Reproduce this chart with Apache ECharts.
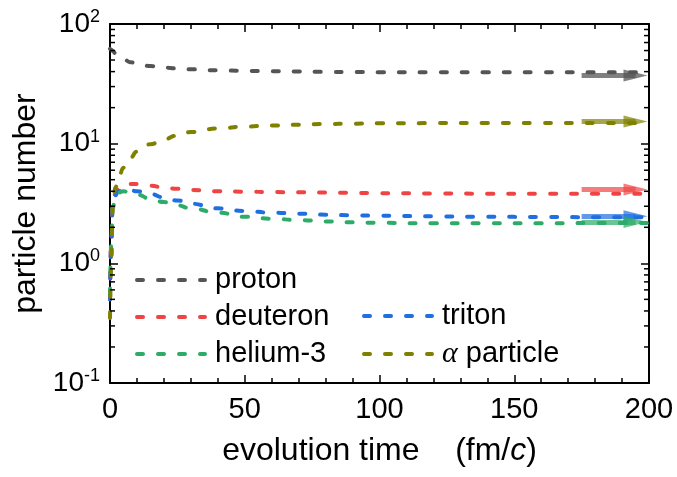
<!DOCTYPE html>
<html>
<head>
    <meta charset="utf-8">
    <title>particle number vs evolution time</title>
    <script src="https://cdn.jsdelivr.net/npm/echarts@6.0.0/dist/echarts.min.js"></script>
    <style>
        html, body { margin: 0; padding: 0; background: #fff; }
        #chartContainer { width: 677px; height: 477px; }
    </style>
</head>
<body>
    <div id="chartContainer"></div>

    <script>
        // evolution time (fm/c)
        const times = [0, 0.5, 1, 2, 3, 5, 7.5, 10, 15, 20, 25, 30, 40, 50, 60, 70, 80, 90, 100, 120, 140, 160, 180, 200];

        // particle numbers
        const proton   = [62, 61, 59.5, 57, 55, 51, 48, 46.5, 44.5, 43.3, 42.5, 41.8, 41, 40.6, 40.3, 40.0, 39.8, 39.7, 39.6, 39.5, 39.5, 39.5, 39.5, 39.5];
        const deuteron = [0.5, 1.6, 3.2, 3.8, 4.2, 4.5, 4.6, 4.6, 4.45, 4.3, 4.2, 4.1, 4.0, 3.97, 3.94, 3.92, 3.9, 3.88, 3.86, 3.84, 3.82, 3.81, 3.81, 3.81];
        const triton   = [0.5, 1.5, 3.0, 3.7, 4.0, 4.15, 4.1, 4.0, 3.8, 3.55, 3.35, 3.15, 2.88, 2.74, 2.65, 2.6, 2.55, 2.52, 2.5, 2.47, 2.45, 2.44, 2.43, 2.43];
        const helium3  = [0.55, 1.5, 2.9, 3.6, 3.9, 4.0, 3.88, 3.75, 3.47, 3.25, 3.05, 2.88, 2.65, 2.45, 2.36, 2.3, 2.24, 2.2, 2.18, 2.16, 2.16, 2.16, 2.17, 2.17];
        const alpha    = [0.35, 1.0, 3.0, 4.3, 5.0, 6.3, 7.6, 8.6, 9.9, 10.9, 11.7, 12.5, 13.4, 13.9, 14.2, 14.4, 14.6, 14.7, 14.8, 14.85, 14.9, 14.9, 14.9, 14.9];

        const names  = ['proton', 'deuteron', 'triton', 'helium-3', 'α particle'];
        const colors = ['#555555', '#ef4444', '#1f6fe0', '#2eab68', '#808000'];
        const arrowColors = ['rgba(85,85,85,0.75)', 'rgba(239,68,68,0.7)', 'rgba(31,111,224,0.7)', 'rgba(46,171,104,0.7)', 'rgba(128,128,0,0.7)'];

        // asymptotic values shown as arrows at the right edge
        const arrowValues = [37.1, 4.14, 2.48, 2.21, 15.35];
        const arrowFrom = 175;
        const arrowTo = 195;

        const xMin = 0, xMax = 200, xStep = 50;
        const yMin = 0.1, yMax = 100;
        // minor ticks of the log axis: 2..9 in each decade
        const yMinorTicks = [];
        [0.1, 1, 10].forEach(d => { for (let m = 2; m <= 9; m++) yMinorTicks.push(+(m * d).toPrecision(3)); });

        const seriesValues = [proton, deuteron, triton, helium3, alpha];
        const font = "'Liberation Sans', Arial, sans-serif";
        const dash = [6, 15];

        const chart = echarts.init(document.getElementById('chartContainer'));

        const lineSeries = names.map((name, i) => ({
            name: name,
            type: 'line',
            data: times.map((t, k) => [t, seriesValues[i][k]]),
            symbol: 'none',
            smooth: true,
            smoothMonotone: 'x',
            color: colors[i],
            lineStyle: { width: 4, type: dash, cap: 'round', color: colors[i] },
            markLine: {
                silent: true,
                symbol: ['none', 'triangle'],
                symbolSize: [12, 24],
                label: { show: false },
                lineStyle: { color: arrowColors[i], width: 5, type: 'solid', cap: 'butt' },
                itemStyle: { color: arrowColors[i] },
                data: [[{ coord: [arrowFrom, arrowValues[i]] }, { coord: [arrowTo, arrowValues[i]] }]]
            }
        }));

        const minorTickSeries = {
            type: 'custom',
            silent: true,
            clip: false,
            z: 10,
            data: yMinorTicks.map(v => [xMin, v]),
            renderItem: (params, api) => {
                const v = api.value(1);
                const l = api.coord([xMin, v]);
                const r = api.coord([xMax, v]);
                const st = { stroke: '#000', lineWidth: 1.5 };
                return {
                    type: 'group',
                    children: [
                        { type: 'line', shape: { x1: l[0], y1: l[1], x2: l[0] + 5, y2: l[1] }, style: st },
                        { type: 'line', shape: { x1: r[0] - 5, y1: r[1], x2: r[0], y2: r[1] }, style: st }
                    ]
                };
            }
        };

        const axisCommon = {
            axisLine: { onZero: false, lineStyle: { color: '#000', width: 2 } },
            axisTick: { inside: true, length: 8, lineStyle: { color: '#000', width: 1.5 } },
            splitLine: { show: false }
        };

        const legendText = {
            fontFamily: font,
            fontSize: 29,
            color: '#000',
            lineHeight: 30,
            padding: [0, 0, 0, 5],
            rich: {
                a: { fontFamily: "'Liberation Serif', serif", fontStyle: 'italic', fontSize: 30, lineHeight: 30 },
                n: { fontFamily: font, fontSize: 29, lineHeight: 30 }
            }
        };
        const legendFormatter = name => name === 'α particle' ? '{a|α}{n| particle}' : name;
        const legendCommon = {
            orient: 'vertical',
            padding: 0,
            itemHeight: 14,
            selectedMode: false,
            formatter: legendFormatter,
            textStyle: legendText,
            itemStyle: { opacity: 0 },
            lineStyle: { width: 4, type: dash, cap: 'round' }
        };

        const option = {
            animation: false,
            backgroundColor: '#fff',
            grid: { left: 110, right: 28, top: 24, bottom: 94 },
            legend: [
                Object.assign({}, legendCommon, {
                    data: ['proton', 'deuteron', 'helium-3'],
                    left: 135, top: 265,
                    itemWidth: 68, itemGap: 7
                }),
                Object.assign({}, legendCommon, {
                    data: ['triton', 'α particle'],
                    left: 362, top: 301,
                    itemWidth: 68, itemGap: 8
                })
            ],
            xAxis: [
                Object.assign({}, axisCommon, {
                    type: 'value',
                    min: xMin, max: xMax, interval: xStep,
                    minorTick: { show: true, splitNumber: 5, length: 5, lineStyle: { color: '#000', width: 1.5 } },
                    minorSplitLine: { show: false },
                    axisLabel: { fontFamily: font, fontSize: 29, color: '#000', margin: 12 },
                    name: '{n|evolution time    (fm/}{i|c}{n|)}',
                    nameLocation: 'middle',
                    nameGap: 52,
                    nameTextStyle: {
                        rich: {
                            n: { fontFamily: font, fontSize: 32, color: '#000' },
                            i: { fontFamily: font, fontSize: 32, fontStyle: 'italic', color: '#000' }
                        }
                    }
                }),
                Object.assign({}, axisCommon, {
                    type: 'value',
                    position: 'top',
                    min: xMin, max: xMax, interval: xStep,
                    minorTick: { show: true, splitNumber: 5, length: 5, lineStyle: { color: '#000', width: 1.5 } },
                    axisLabel: { show: false }
                })
            ],
            yAxis: [
                Object.assign({}, axisCommon, {
                    type: 'log',
                    logBase: 10,
                    min: yMin, max: yMax,
                    axisLabel: {
                        margin: 10,
                        formatter: v => '{b|10}{s|' + Math.round(Math.log10(v)) + '}',
                        rich: {
                            b: { fontFamily: font, fontSize: 28, color: '#000' },
                            s: { fontFamily: font, fontSize: 18, color: '#000', padding: [0, 0, 14, 0] }
                        }
                    },
                    name: 'particle number',
                    nameLocation: 'middle',
                    nameGap: 64,
                    nameTextStyle: { fontFamily: font, fontSize: 32, color: '#000' }
                }),
                Object.assign({}, axisCommon, {
                    type: 'log',
                    logBase: 10,
                    position: 'right',
                    min: yMin, max: yMax,
                    axisLabel: { show: false }
                })
            ],
            series: lineSeries.concat([minorTickSeries])
        };

        chart.setOption(option);
    </script>
</body>
</html>
